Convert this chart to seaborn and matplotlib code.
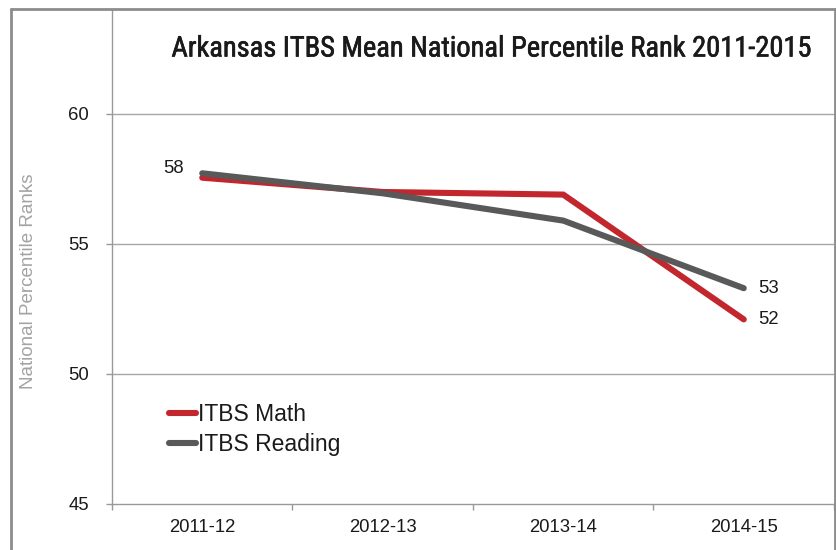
import matplotlib
matplotlib.use("Agg")
import matplotlib.pyplot as plt
from matplotlib.lines import Line2D
from matplotlib import font_manager as fm
from matplotlib.font_manager import FontProperties
import matplotlib.patheffects as pe
import seaborn as sns
import pandas as pd

# ---- data ----
years = ["2011-12", "2012-13", "2013-14", "2014-15"]
math_vals = [57.55, 57.0, 56.9, 52.1]
reading_vals = [57.72, 56.95, 55.9, 53.3]
series_names = ["ITBS Math", "ITBS Reading"]
y_ticks = [45, 50, 55, 60]
title = "Arkansas ITBS Mean National Percentile Rank 2011-2015"
y_label = "National Percentile Ranks"

df = pd.DataFrame({
    "year": years * 2,
    "value": math_vals + reading_vals,
    "series": [series_names[0]] * len(years) + [series_names[1]] * len(years),
})

sns.set_theme(style="white")
plt.rcParams["font.family"] = ["Liberation Sans", "DejaVu Sans"]


def wnum(w):
    if isinstance(w, int):
        return w
    return {"light": 300, "normal": 400, "regular": 400, "book": 400,
            "medium": 500, "bold": 700}.get(str(w), 400)


def find_condensed(target=400):
    cands = []
    for e in fm.fontManager.ttflist:
        name = e.name.lower()
        fname = e.fname.lower()
        cond = ("narrow" in name or "condensed" in name or "narrow" in fname
                or "condensed" in fname or str(e.stretch) in ("condensed", "semi-condensed", "extra-condensed"))
        if not cond or e.style != "normal":
            continue
        pri = 9
        for i, key in enumerate(["liberation", "roboto", "open", "noto", "dejavu"]):
            if key in name:
                pri = i
                break
        cands.append((abs(wnum(e.weight) - target), pri, e.fname))
    if not cands:
        return None
    cands.sort()
    return FontProperties(fname=cands[0][2])


title_fp = find_condensed(450) or FontProperties(family="Liberation Sans")
ylab_fp = FontProperties(family=["Liberation Sans", "DejaVu Sans"])

W, H = 837, 550
fig = plt.figure(figsize=(W / 100, H / 100), dpi=100)
ax = fig.add_axes([112 / W, 1 - 504 / H, (834 - 112) / W, (504 - 9) / H])

palette = {"ITBS Math": "#C1272D", "ITBS Reading": "#595959"}
sns.lineplot(data=df, x="year", y="value", hue="series", palette=palette,
             linewidth=4.4, sort=False, ax=ax, legend=True)
for ln in ax.get_lines():
    ln.set_solid_capstyle("round")
    ln.set_solid_joinstyle("miter")

ax.set_xlim(-0.5, 3.5)
ax.set_ylim(45, 45 + (504 - 9) / 26)
ax.set_yticks(y_ticks)
ax.set_yticklabels([str(t) for t in y_ticks])
ax.set_xticks(range(len(years)))
ax.set_xticklabels(years)
ax.set_xticks([i - 0.5 for i in range(len(years) + 1)], minor=True)
ax.tick_params(axis="x", which="major", length=0, pad=11, labelsize=13.3, colors="#1a1a1a")
ax.tick_params(axis="x", which="minor", length=4, width=1, color="#999999", direction="out", bottom=True)
ax.tick_params(axis="y", which="major", length=4.5, width=1, color="#999999", pad=12,
               labelsize=13.3, labelcolor="#1a1a1a", left=True)
for t in y_ticks[1:]:
    ax.axhline(t, color="#a6a6a6", linewidth=1, zorder=0)

for s in ["top", "right"]:
    ax.spines[s].set_visible(False)
for s in ["left", "bottom"]:
    ax.spines[s].set_color("#999999")
    ax.spines[s].set_linewidth(1)

ax.set_xlabel("")
ax.set_ylabel("")
ylab = fig.text(29 / W, 1 - 281 / H, y_label, rotation=90, ha="center", va="center",
                color="#a3a3a3", fontproperties=ylab_fp)
ylab.set_fontsize(14)

ttl = fig.text(491 / W, 1 - 49 / H, title, ha="center", va="center",
               color="#1a1a1a", fontproperties=title_fp)
ttl.set_fontsize(22)
ttl.set_path_effects([pe.withStroke(linewidth=0.45, foreground="#1a1a1a")])

# fit title width to ~640 px and y label length to ~217 px
renderer = fig.canvas.get_renderer()
for txt, target, horiz, maxsize in [(ttl, 640, True, 28), (ylab, 217, False, 17)]:
    bb = txt.get_window_extent(renderer)
    cur = bb.width if horiz else bb.height
    new = txt.get_fontsize() * target / cur
    txt.set_fontsize(min(new, maxsize))

# data labels
ax.annotate(f"{round(math_vals[0])}", (0, reading_vals[0]), xytext=(-21, 3.5),
            textcoords="offset points", ha="center", va="center", fontsize=13.3, color="#1a1a1a")
ax.annotate(f"{round(reading_vals[-1])}", (3, reading_vals[-1]), xytext=(18, 0),
            textcoords="offset points", ha="center", va="center", fontsize=13.3, color="#1a1a1a")
ax.annotate(f"{round(math_vals[-1])}", (3, math_vals[-1]), xytext=(18, 0),
            textcoords="offset points", ha="center", va="center", fontsize=13.3, color="#1a1a1a")

# legend
handles, labels = ax.get_legend_handles_labels()
leg = ax.legend(handles, labels, loc="center left",
                bbox_to_anchor=((169 - 112) / (834 - 112), (504 - 429.5) / (504 - 9)),
                frameon=False, fontsize=16.5, handlelength=1.2, handletextpad=0.05,
                labelspacing=0.3, borderpad=0, borderaxespad=0)
for h in leg.get_lines():
    h.set_linewidth(4.4)
    h.set_solid_capstyle("round")
for t in leg.get_texts():
    t.set_color("#1a1a1a")

# figure border (left, top, right)
bc = "#8c8c8c"
fig.add_artist(Line2D([11 / W, 11 / W], [0, 1 - 9 / H], transform=fig.transFigure, color=bc, lw=2))
fig.add_artist(Line2D([11 / W, 835 / W], [1 - 9 / H, 1 - 9 / H], transform=fig.transFigure, color=bc, lw=2))
fig.add_artist(Line2D([835 / W, 835 / W], [0, 1 - 9 / H], transform=fig.transFigure, color=bc, lw=2))

fig.savefig("out.png", dpi=100)
